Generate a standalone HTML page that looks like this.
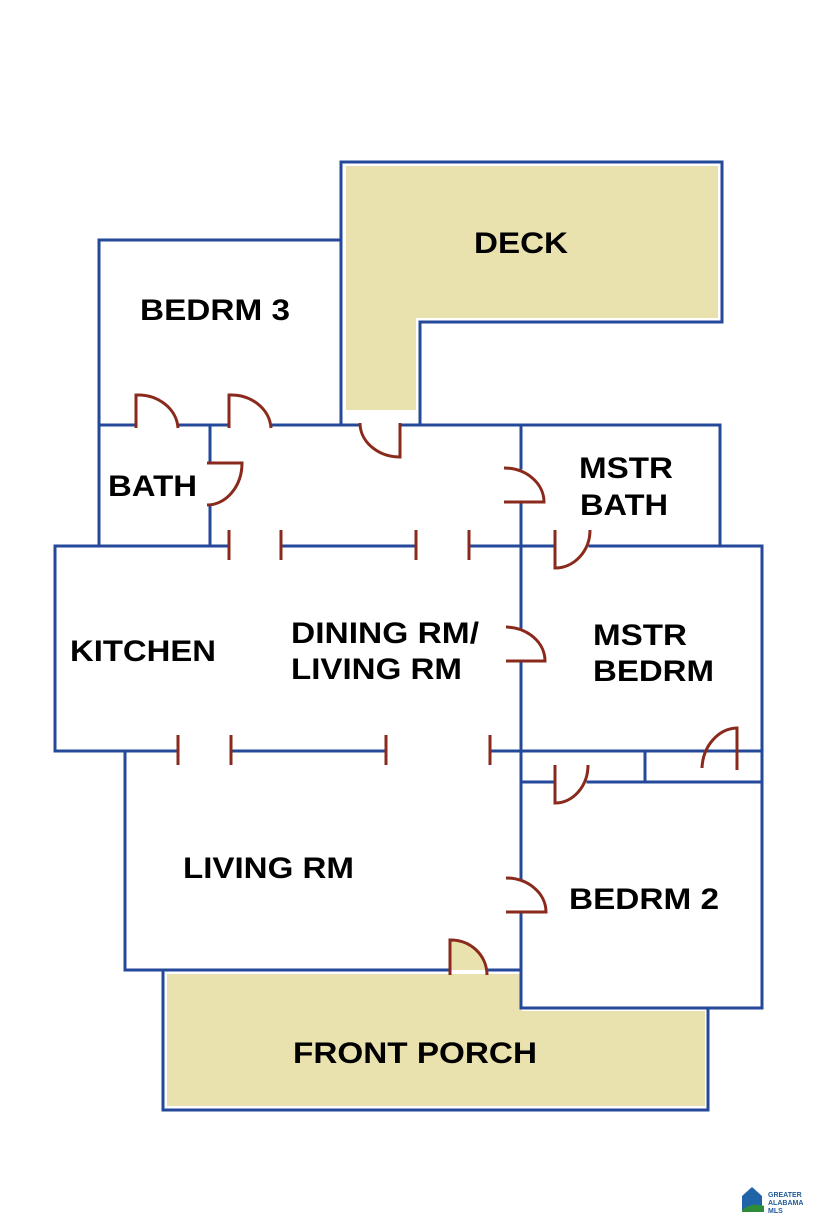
<!DOCTYPE html>
<html><head><meta charset="utf-8"><style>html,body{margin:0;padding:0;background:#fff}svg{display:block}</style></head>
<body>
<svg width="825" height="1220" viewBox="0 0 825 1220" xmlns="http://www.w3.org/2000/svg">
<rect width="825" height="1220" fill="#fff"/>
<!-- beige fills -->
<path d="M346,166 H718 V318 H416 V410 H346 Z" fill="#e9e1ae"/>
<rect x="167" y="974" width="355" height="132" fill="#e9e1ae"/>
<rect x="522" y="1011" width="183" height="95" fill="#e9e1ae"/>
<path d="M450,970 L450,940 A36,35 0 0 1 487,970 Z" fill="#e9e1ae"/>
<g stroke="#24489a" stroke-width="3" fill="none" stroke-linecap="square">
<!-- deck -->
<path d="M341,425 V162 H722 V322 H420 V425"/>
<!-- bedrm3 -->
<path d="M341,240 H99 V545"/>
<!-- y=425 line -->
<path d="M99,425 H136 M178,425 H229 M271,425 H360 M400,425 H720 V546"/>
<!-- bath -->
<path d="M210,425 V463 M210,505 V545"/>
<!-- hall right wall x=521 -->
<path d="M521,425 V468 M521,502 V627 M521,661 V878 M521,912 V1008 H762 V546"/>
<!-- y=546 -->
<path d="M55,546 H229 M281,546 H416 M469,546 H555 M590,546 H762"/>
<!-- kitchen -->
<path d="M55,546 V751 H178 M231,751 H386 M490,751 H762"/>
<!-- closets -->
<path d="M521,782 H555 M588,782 H762 M645,751 V782 M521,751 V782"/>
<!-- living -->
<path d="M125,751 V970 H450 M487,970 H521"/>
<!-- porch -->
<path d="M163,970 V1110 H708 V1008"/>
</g>
<g stroke="#8a2a1c" stroke-width="3" fill="none">
<path d="M136,428 L136,395 A40,35 0 0 1 178,428"/>
<path d="M229,428 L229,395 A40,35 0 0 1 271,428"/>
<path d="M207,463 L242,463 A35,42 0 0 1 207,505"/>
<path d="M400,423 L400,457 A40,34 0 0 1 360,423"/>
<path d="M504,468 A40,34 0 0 1 544,502 L504,502"/>
<path d="M555,530 L555,568 A35,38 0 0 0 590,530"/>
<path d="M506,627 A40,34 0 0 1 545,661 L506,661"/>
<path d="M555,765 L555,803 A33,38 0 0 0 588,765"/>
<path d="M737,770 L737,728 A36,42 0 0 0 702,768"/>
<path d="M506,878 A40,34 0 0 1 546,912 L506,912"/>
<path d="M450,975 L450,940 A36,35 0 0 1 487,975"/>
<path d="M229,530 V560 M281,530 V560 M416,530 V560 M469,530 V560"/>
<path d="M178,735 V765 M231,735 V765 M386,735 V765 M490,735 V765"/>
</g>
<g font-family="Liberation Sans, Arial, sans-serif" font-weight="bold" font-size="30" fill="#000">
<text x="474" y="253" textLength="94" lengthAdjust="spacingAndGlyphs">DECK</text>
<text x="140" y="320" textLength="150" lengthAdjust="spacingAndGlyphs">BEDRM 3</text>
<text x="108" y="496" textLength="89" lengthAdjust="spacingAndGlyphs">BATH</text>
<text x="70" y="661" textLength="146" lengthAdjust="spacingAndGlyphs">KITCHEN</text>
<text x="291" y="643" textLength="188" lengthAdjust="spacingAndGlyphs">DINING RM/</text>
<text x="291" y="679" textLength="171" lengthAdjust="spacingAndGlyphs">LIVING RM</text>
<text x="579" y="478" textLength="94" lengthAdjust="spacingAndGlyphs">MSTR</text>
<text x="580" y="515" textLength="88" lengthAdjust="spacingAndGlyphs">BATH</text>
<text x="593" y="645" textLength="94" lengthAdjust="spacingAndGlyphs">MSTR</text>
<text x="593" y="681" textLength="121" lengthAdjust="spacingAndGlyphs">BEDRM</text>
<text x="183" y="878" textLength="171" lengthAdjust="spacingAndGlyphs">LIVING RM</text>
<text x="569" y="909" textLength="150" lengthAdjust="spacingAndGlyphs">BEDRM 2</text>
<text x="293" y="1063" textLength="244" lengthAdjust="spacingAndGlyphs">FRONT PORCH</text>
</g>
<!-- logo -->
<path d="M742,1200 V1196 L752,1187 L762,1196 V1210 H742 Z" fill="#1f63a8"/>
<path d="M742,1210 Q752,1202 764,1206 V1212 H742 Z" fill="#2e8b3a"/>
<g font-family="Liberation Sans, Arial, sans-serif" font-weight="bold" font-size="7" fill="#1f5a9a">
<text x="768" y="1197">GREATER</text>
<text x="768" y="1205">ALABAMA</text>
<text x="768" y="1213">MLS</text>
</g>
</svg>
</body></html>
